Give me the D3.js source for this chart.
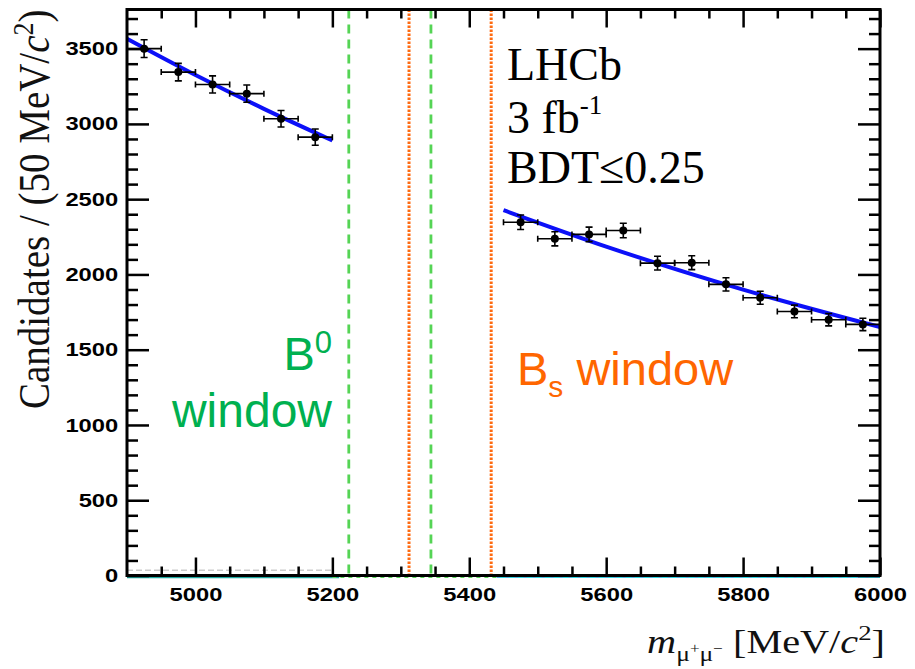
<!DOCTYPE html>
<html>
<head>
<meta charset="utf-8">
<script src="https://cdn.jsdelivr.net/npm/d3@7"></script>
<style>
body { margin: 0; background: #fff; }
svg { display: block; background: #fff; }
</style>
</head>
<body>
<svg id="canvas" width="915" height="669"></svg>
<script>
// data
let leftMass = [4925, 4975, 5025, 5075, 5125, 5175]
let leftCounts = [3500, 3344, 3262, 3201, 3034, 2912]
let leftErrors = [59, 58, 57, 57, 55, 54]

let rightMass = [5475, 5525, 5575, 5625, 5675, 5725, 5775, 5825, 5875, 5925, 5975]
let rightCounts = [2347, 2237, 2266, 2292, 2075, 2078, 1934, 1845, 1754, 1699, 1668]
let rightErrors = [48, 47, 48, 48, 46, 46, 44, 43, 42, 41, 41]

let binHalfWidth = 25

let fitLeftMass = [4900, 5000, 5100, 5200]
let fitLeftCounts = [3566, 3325, 3100, 2890]
let fitRightMass = [5450, 5600, 5800, 6000]
let fitRightCounts = [2427, 2185, 1899, 1651]

let b0Window = [5224, 5344]
let bsWindow = [5312, 5432]

let xMajorTicks = [5000, 5200, 5400, 5600, 5800, 6000]
let yMajorTicks = [0, 500, 1000, 1500, 2000, 2500, 3000, 3500]

let canvas = d3.select("#canvas")

let x = d3.scaleLinear().domain([4900, 6000]).range([127, 880])
let y = d3.scaleLinear().domain([0, 3760]).range([575.5, 9.5])

let xMinorTicks = d3.range(4950, 6000, 50).filter(d => d % 200 !== 0)
let yMinorTicks = d3.range(100, 3760, 100).filter(d => d % 500 !== 0)

let tickFont = "'Liberation Sans', Arial, sans-serif"
let serif = "'Liberation Serif', 'Times New Roman', serif"
let stretch = 1.25   // the labels in the picture are drawn wide

// small components lying on the floor
canvas.append("line")
    .attr("x1", x(4900)).attr("x2", x(5200))
    .attr("y1", y(35)).attr("y2", y(35))
    .attr("stroke", "#cccccc").attr("stroke-width", 1.5)
    .attr("stroke-dasharray", "6,3")
canvas.append("line")
    .attr("x1", x(4900)).attr("x2", x(5210))
    .attr("y1", y(0) + 1.5).attr("y2", y(0) + 1.5)
    .attr("stroke", "#20a8a0").attr("stroke-width", 2.5)
canvas.append("line")
    .attr("x1", x(5200)).attr("x2", x(5450))
    .attr("y1", y(0) + 1.5).attr("y2", y(0) + 1.5)
    .attr("stroke", "#5ad65a").attr("stroke-width", 2)
    .attr("stroke-dasharray", "4,4")
canvas.append("line")
    .attr("x1", x(5440)).attr("x2", x(6000))
    .attr("y1", y(0) + 1.5).attr("y2", y(0) + 1.5)
    .attr("stroke", "#30d8e0").attr("stroke-width", 2)
canvas.append("line")
    .attr("x1", x(5440)).attr("x2", x(6000))
    .attr("y1", y(0) + 1).attr("y2", y(0) + 1)
    .attr("stroke", "#e020e0").attr("stroke-width", 1.5)
    .attr("stroke-dasharray", "3,6")

// mass windows
canvas.selectAll(".b0line")
    .data(b0Window)
    .enter()
    .append("line")
    .attr("class", "b0line")
    .attr("x1", d => x(d)).attr("x2", d => x(d))
    .attr("y1", y.range()[1]).attr("y2", y.range()[0])
    .attr("stroke", "#55d455")
    .attr("stroke-width", 2.8)
    .attr("stroke-dasharray", "9,6")

canvas.selectAll(".bsline")
    .data(bsWindow)
    .enter()
    .append("line")
    .attr("class", "bsline")
    .attr("x1", d => x(d)).attr("x2", d => x(d))
    .attr("y1", y.range()[1]).attr("y2", y.range()[0])
    .attr("stroke", "#ff6a10")
    .attr("stroke-width", 3)
    .attr("stroke-dasharray", "2.5,1.5")

// fit
let fitLine = d3.line()
    .x(d => x(d[0]))
    .y(d => y(d[1]))
    .curve(d3.curveMonotoneX)

let fitParts = [
    d3.zip(fitLeftMass, fitLeftCounts),
    d3.zip(fitRightMass, fitRightCounts)
]

canvas.selectAll(".fit")
    .data(fitParts)
    .enter()
    .append("path")
    .attr("class", "fit")
    .attr("d", fitLine)
    .attr("fill", "none")
    .attr("stroke", "#0c10f8")
    .attr("stroke-width", 4)

// data points with error bars
let points = []
leftMass.forEach((m, i) => points.push({ m: m, n: leftCounts[i], e: leftErrors[i] }))
rightMass.forEach((m, i) => points.push({ m: m, n: rightCounts[i], e: rightErrors[i] }))

let pts = canvas.selectAll(".pt")
    .data(points)
    .enter()
    .append("g")
    .attr("class", "pt")
    .attr("stroke", "black")
    .attr("stroke-width", 1.6)

pts.append("line")
    .attr("x1", d => x(d.m - binHalfWidth)).attr("x2", d => x(d.m + binHalfWidth))
    .attr("y1", d => y(d.n)).attr("y2", d => y(d.n))
pts.append("line")
    .attr("x1", d => x(d.m)).attr("x2", d => x(d.m))
    .attr("y1", d => y(d.n - d.e)).attr("y2", d => y(d.n + d.e))
// caps
pts.append("path")
    .attr("fill", "none")
    .attr("d", d => {
        let cx = x(d.m), lo = x(d.m - binHalfWidth), hi = x(d.m + binHalfWidth)
        let cy = y(d.n), top = y(d.n + d.e), bot = y(d.n - d.e)
        return "M" + (lo) + "," + (cy - 3) + "V" + (cy + 3) +
               "M" + (hi) + "," + (cy - 3) + "V" + (cy + 3) +
               "M" + (cx - 3.5) + "," + top + "H" + (cx + 3.5) +
               "M" + (cx - 3.5) + "," + bot + "H" + (cx + 3.5)
    })
pts.append("circle")
    .attr("cx", d => x(d.m))
    .attr("cy", d => y(d.n))
    .attr("r", 4)
    .attr("fill", "black")
    .attr("stroke", "none")

// axes
let plotW = x.range()[1] - x.range()[0]
let plotH = y.range()[0] - y.range()[1]

let styleAxis = (g) => {
    g.select(".domain").remove()
    g.selectAll(".tick line").attr("stroke", "black").attr("stroke-width", 2.5)
    g.selectAll(".tick text")
        .attr("fill", "black")
        .attr("transform", "scale(" + stretch + ",1)")
        .style("font-family", tickFont)
        .style("font-weight", "bold")
        .style("font-size", "19px")
}

canvas.append("g")
    .attr("transform", "translate(0," + y(0) + ")")
    .call(d3.axisBottom(x).tickValues(xMajorTicks).tickSizeInner(-18).tickSizeOuter(0).tickPadding(12).tickFormat(d3.format("d")))
    .call(styleAxis)
canvas.append("g")
    .attr("transform", "translate(0," + y(0) + ")")
    .call(d3.axisBottom(x).tickValues(xMinorTicks).tickSizeInner(-9).tickSizeOuter(0).tickFormat(""))
    .call(styleAxis)
canvas.append("g")
    .attr("transform", "translate(0," + y.range()[1] + ")")
    .call(d3.axisTop(x).tickValues(xMajorTicks).tickSizeInner(-18).tickSizeOuter(0).tickFormat(""))
    .call(styleAxis)
canvas.append("g")
    .attr("transform", "translate(0," + y.range()[1] + ")")
    .call(d3.axisTop(x).tickValues(xMinorTicks).tickSizeInner(-9).tickSizeOuter(0).tickFormat(""))
    .call(styleAxis)

canvas.append("g")
    .attr("transform", "translate(" + x.range()[0] + ",0)")
    .call(d3.axisLeft(y).tickValues(yMajorTicks).tickSizeInner(-22).tickSizeOuter(0).tickPadding(7).tickFormat(d3.format("d")))
    .call(styleAxis)
canvas.append("g")
    .attr("transform", "translate(" + x.range()[0] + ",0)")
    .call(d3.axisLeft(y).tickValues(yMinorTicks).tickSizeInner(-11).tickSizeOuter(0).tickFormat(""))
    .call(styleAxis)
canvas.append("g")
    .attr("transform", "translate(" + x.range()[1] + ",0)")
    .call(d3.axisRight(y).tickValues(yMajorTicks).tickSizeInner(-22).tickSizeOuter(0).tickFormat(""))
    .call(styleAxis)
canvas.append("g")
    .attr("transform", "translate(" + x.range()[1] + ",0)")
    .call(d3.axisRight(y).tickValues(yMinorTicks).tickSizeInner(-11).tickSizeOuter(0).tickFormat(""))
    .call(styleAxis)

// frame
canvas.append("rect")
    .attr("x", x.range()[0])
    .attr("y", y.range()[1])
    .attr("width", plotW)
    .attr("height", plotH)
    .attr("fill", "none")
    .attr("stroke", "black")
    .attr("stroke-width", 3)

// axis titles
let yTitle = canvas.append("text")
    .attr("transform", "translate(49," + y.range()[1] + ") scale(1.15,1) rotate(-90)")
    .attr("text-anchor", "end")
    .style("font-family", serif)
    .style("font-size", "39px")
    .attr("fill", "#111")
yTitle.append("tspan").text("Candidates / (50 MeV/")
yTitle.append("tspan").style("font-style", "italic").text("c")
yTitle.append("tspan").attr("dy", -14).style("font-size", "26px").text("2")
yTitle.append("tspan").attr("dy", 14).text(")")

let xTitle = canvas.append("text")
    .attr("transform", "translate(885,653) scale(1.22,1)")
    .attr("text-anchor", "end")
    .style("font-family", serif)
    .style("font-size", "33px")
    .attr("fill", "#111")
xTitle.append("tspan").style("font-style", "italic").text("m")
xTitle.append("tspan").attr("dy", 8).style("font-size", "21px").text("μ")
xTitle.append("tspan").attr("dy", -8).style("font-size", "14px").text("+")
xTitle.append("tspan").attr("dy", 8).style("font-size", "21px").text("μ")
xTitle.append("tspan").attr("dy", -8).style("font-size", "14px").text("−")
xTitle.append("tspan").attr("dy", 0).text(" [MeV/")
xTitle.append("tspan").style("font-style", "italic").text("c")
xTitle.append("tspan").attr("dy", -13).style("font-size", "22px").text("2")
xTitle.append("tspan").attr("dy", 13).text("]")

// LHCb label
let lhcb = canvas.append("g")
    .style("font-family", serif)
    .style("font-size", "46px")
    .attr("fill", "black")
lhcb.append("text").attr("x", 507).attr("y", 80).text("LHCb")
let lumi = lhcb.append("text").attr("x", 507).attr("y", 133)
lumi.append("tspan").text("3 fb")
lumi.append("tspan").attr("dy", -19).style("font-size", "27px").text("-1")
lhcb.append("text").attr("x", 507).attr("y", 183).text("BDT≤0.25")

// window labels
let b0Label = canvas.append("g")
    .style("font-family", tickFont)
    .attr("fill", "#00b050")
let b0Text = b0Label.append("text")
    .attr("x", 332).attr("y", 370)
    .attr("text-anchor", "end")
    .style("font-size", "47px")
b0Text.append("tspan").text("B")
b0Text.append("tspan").attr("dy", -17).style("font-size", "31px").text("0")
b0Label.append("text")
    .attr("x", 332).attr("y", 427)
    .attr("text-anchor", "end")
    .style("font-size", "48px")
    .text("window")

let bsText = canvas.append("text")
    .attr("x", 517).attr("y", 385)
    .style("font-family", tickFont)
    .style("font-size", "47px")
    .attr("fill", "#ff6600")
bsText.append("tspan").text("B")
bsText.append("tspan").attr("dy", 12).style("font-size", "30px").text("s")
bsText.append("tspan").attr("dy", -12).text(" window")
</script>
</body>
</html>
